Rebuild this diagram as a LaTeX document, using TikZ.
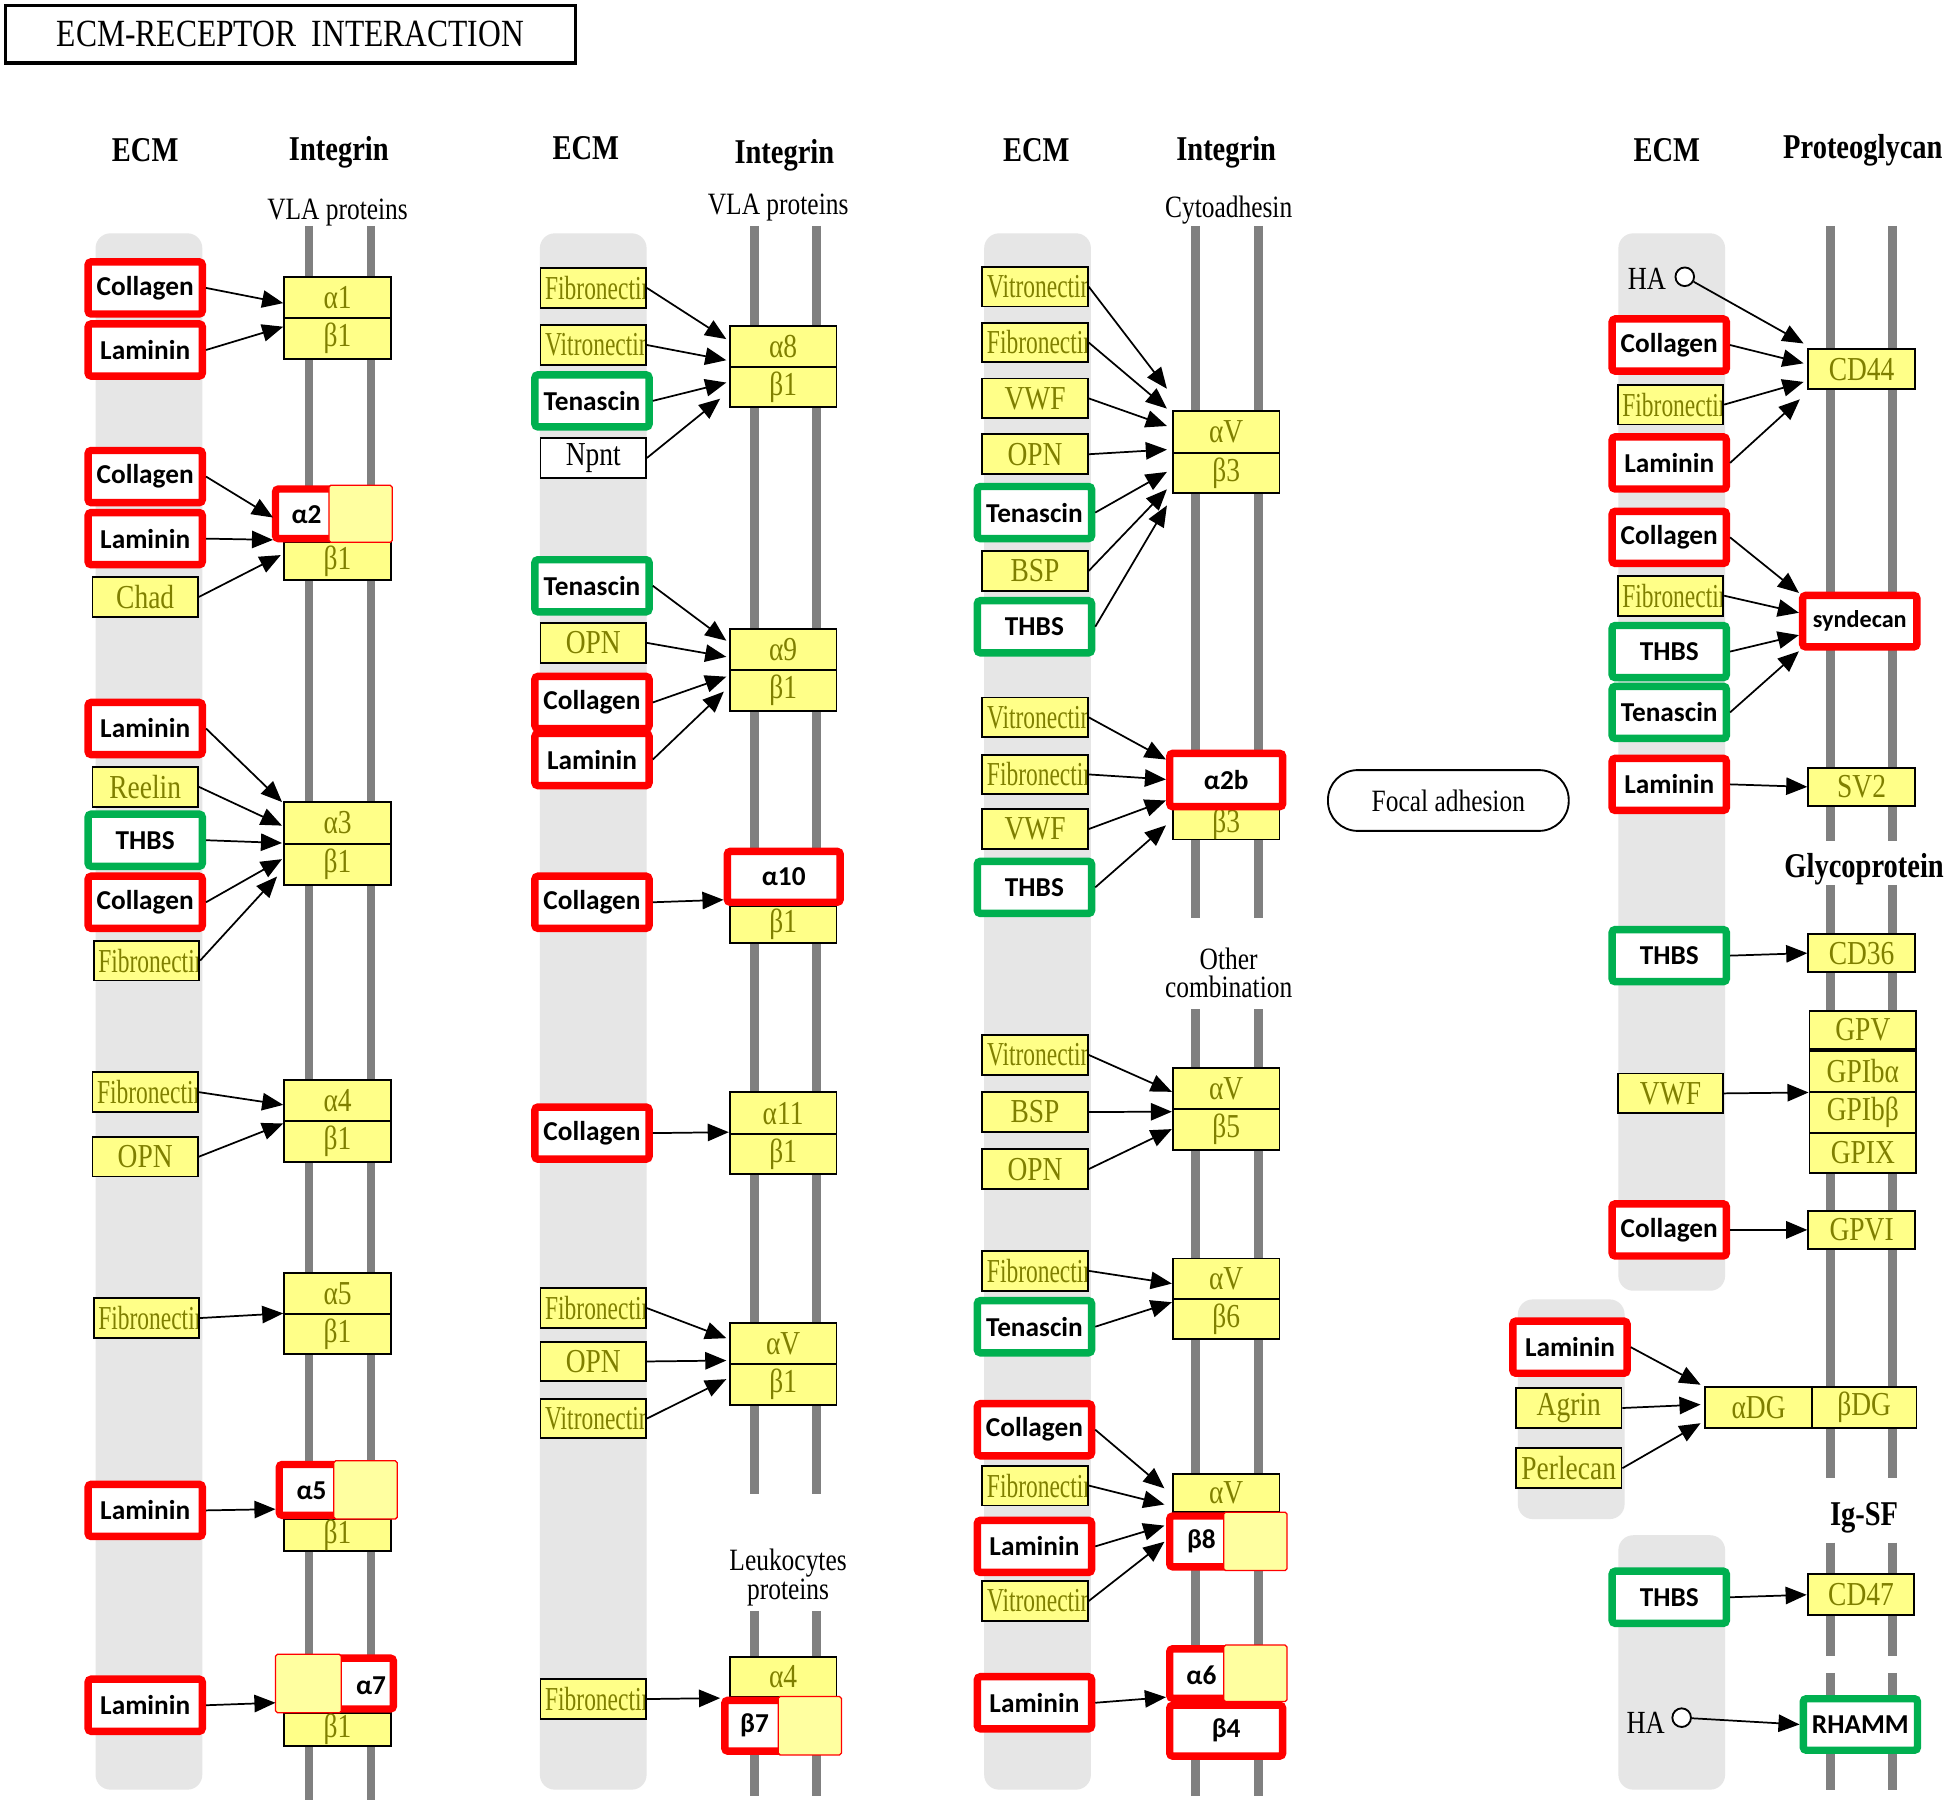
\documentclass[tikz,border=0pt]{standalone}
\usepackage{fontspec}
\usetikzlibrary{arrows.meta,calc}
\newfontfamily\kser[FakeStretch=0.82]{Liberation Serif}
\newfontfamily\ksern[FakeStretch=0.7]{Liberation Serif}
\newfontfamily\kcal{Carlito}
\definecolor{kyel}{HTML}{FFFF88}
\definecolor{kpale}{HTML}{FFFFA0}
\definecolor{kolive}{HTML}{7F7F00}
\definecolor{kred}{HTML}{FF0000}
\definecolor{kgreen}{HTML}{00B050}
\definecolor{kbg}{HTML}{E6E6E6}
\definecolor{kmem}{HTML}{808080}
\tikzset{
  yfont/.style={font=\kser\fontsize{27}{27}\selectfont},
  ecm/.style={draw=black, line width=1.5pt, fill=kyel, minimum width=85pt, minimum height=32pt, inner sep=0pt, text=kolive, yfont},
  ecmlong/.style={path picture={\node[anchor=west, inner sep=0pt, text=kolive, font=\ksern\fontsize{27}{27}\selectfont] at ([xshift=3pt]path picture bounding box.west) {#1};}},
  redbox/.style={draw=kred, line width=6pt, fill=white, rounded corners=2.5pt, minimum width=92pt, minimum height=42pt, inner sep=0pt, text=black, font=\kcal\fontsize{22}{22}\selectfont\bfseries},
  greenbox/.style={redbox, draw=kgreen},
  rcell/.style={draw=black, line width=1.5pt, fill=kyel, minimum width=86pt, inner sep=0pt, text=kolive, yfont},
  rtext/.style={inner sep=0pt, text=black, font=\kcal\fontsize{22}{22}\selectfont\bfseries},
  pale/.style={fill=kpale, draw=kred, line width=1pt, rounded corners=1.5pt},
  mem/.style={draw=kmem, line width=7pt},
  arr/.style={-{Triangle[length=17pt,width=14pt]}, line width=1.4pt, black},
  hdr/.style={font=\kser\fontsize{28}{28}\selectfont\bfseries, inner sep=0pt},
  sub/.style={font=\kser\fontsize{25}{23}\selectfont, align=center, inner sep=0pt},
  hatext/.style={font=\kser\fontsize{26}{26}\selectfont, inner sep=0pt},
  hacirc/.style={circle, draw=black, line width=1.5pt, fill=white, minimum size=15pt, inner sep=0pt},
  bgcol/.style={fill=kbg, rounded corners=12pt}
}
\begin{document}
\begin{tikzpicture}[x=1pt,y=-1pt]
\useasboundingbox (0,0) rectangle (1568,1453);
\fill[white] (0,0) rectangle (1568,1453);

% grey ECM columns
\fill[bgcol] (77,188) rectangle (163,1442);
\fill[bgcol] (435,188) rectangle (521,1442);
\fill[bgcol] (793,188) rectangle (879,1442);
\fill[bgcol] (1304,188) rectangle (1390,1040);
\fill[bgcol] (1223,1047) rectangle (1309,1224);
\fill[bgcol] (1304,1237) rectangle (1390,1442);

% membrane lines
\foreach \x in {249,299} \draw[mem] (\x,182) -- (\x,1450);
\foreach \x in {608,658} {\draw[mem] (\x,182) -- (\x,1204); \draw[mem] (\x,1298) -- (\x,1447);}
\foreach \x in {963,1014} {\draw[mem] (\x,182) -- (\x,740); \draw[mem] (\x,813) -- (\x,1447);}
\foreach \x in {1475,1525} {\draw[mem] (\x,182) -- (\x,678); \draw[mem] (\x,713) -- (\x,1191);
  \draw[mem] (\x,1243) -- (\x,1334); \draw[mem] (\x,1348) -- (\x,1442);}

% title and headers
\node[draw=black, line width=2.5pt, minimum width=459.5pt, minimum height=46.5pt, inner sep=0pt, font=\kser\fontsize{31}{31}\selectfont] (title) at (234,27.5) {ECM-RECEPTOR\hspace{0.4em}INTERACTION};
\node[hdr] (h1) at (117,121) {ECM};
\node[hdr] (h2) at (273,123) {Integrin};
\node[hdr] (h3) at (472,119) {ECM};
\node[hdr] (h4) at (632,125) {Integrin};
\node[hdr] (h5) at (835,121) {ECM};
\node[hdr] (h6) at (988,123) {Integrin};
\node[hdr] (h7) at (1343,121) {ECM};
\node[hdr] (h8) at (1501,121) {Proteoglycan};
\node[sub] (s1) at (272,171) {VLA proteins};
\node[sub] (s2) at (627,167) {VLA proteins};
\node[sub] (s3) at (990,169) {Cytoadhesin};
\node[sub] (s4) at (990,784) {Other\\combination};
\node[sub] (s5) at (635,1271) {Leukocytes\\proteins};
\node[hdr] (s6) at (1502,700) {Glycoprotein};
\node[hdr] (s7) at (1502,1223) {Ig-SF};

% ---------- column 1 ----------
\node[redbox] (c1a) at (117,232) {Collagen};
\node[redbox] (c1b) at (117,282) {Laminin};
\node[redbox] (c2a) at (117,384) {Collagen};
\node[redbox] (c2b) at (117,434) {Laminin};
\node[ecm] (c2c) at (117,481) {Chad};
\node[redbox] (c3a) at (117,587) {Laminin};
\node[ecm] (c3b) at (117,634) {Reelin};
\node[greenbox] (c3c) at (117,677) {THBS};
\node[redbox] (c3d) at (117,727) {Collagen};
\node[ecm, ecmlong=Fibronectin] (c3e) at (118,774) {};
\node[ecm, ecmlong=Fibronectin] (c4a) at (117,880) {};
\node[ecm] (c4b) at (117,932) {OPN};
\node[ecm, ecmlong=Fibronectin] (c5a) at (118,1062) {};
\node[redbox] (c6a) at (117,1217) {Laminin};
\node[redbox] (c7a) at (117,1374) {Laminin};

\node[rcell, minimum height=33pt] (r1a) at (272,239.5) {α1};
\node[rcell, minimum height=33pt] (r1b) at (272,272.5) {β1};
\node[rcell, minimum height=30pt] (r2b) at (272,452) {β1};
\node[redbox, minimum width=91pt, minimum height=40pt] (r2a) at (267.5,414) {};
\fill[pale] (265,391) rectangle (316,437);
\node[rtext] (r2t) at (247,415) {α2};
\node[rcell, minimum height=34pt] (r3a) at (272,663) {α3};
\node[rcell, minimum height=33pt] (r3b) at (272,696.5) {β1};
\node[rcell, minimum height=33pt] (r4a) at (272,886.5) {α4};
\node[rcell, minimum height=33pt] (r4b) at (272,919.5) {β1};
\node[rcell, minimum height=33pt] (r5a) at (272,1042.5) {α5};
\node[rcell, minimum height=32pt] (r5b) at (272,1075) {β1};
\node[rcell, minimum height=26pt] (r6b) at (272,1237) {β1};
\node[redbox, minimum width=92pt, minimum height=41pt] (r6a) at (271,1200.5) {};
\fill[pale] (269,1177) rectangle (320,1224);
\node[rtext] (r6t) at (251,1201) {α5};
\node[rcell, minimum height=27pt] (r7b) at (272,1393.5) {β1};
\node[redbox, minimum width=92pt, minimum height=41pt] (r7a) at (271,1356.5) {};
\fill[pale] (222,1333) rectangle (275,1380);
\node[rtext] (r7t) at (299,1358) {α7};

\draw[arr] (c1a.east) -- ($(r1a.north west)+(0,22)$);
\draw[arr] (c1b.east) -- ($(r1a.north west)+(0,41)$);
\draw[arr] (c2a.east) -- ($(r2a.north west)+(1,26)$);
\draw[arr] (c2b.east) -- ($(r2a.north west)+(1,44)$);
\draw[arr] (c2c.east) -- ($(r2b.north west)+(-2,11)$);
\draw[arr] (c3a.east) -- ($(r3a.north west)+(-1,1)$);
\draw[arr] (c3b.east) -- ($(r3a.north west)+(-1,20)$);
\draw[arr] (c3c.east) -- ($(r3a.north west)+(-1,34)$);
\draw[arr] (c3d.east) -- ($(r3a.north west)+(-1,47)$);
\draw[arr] (c3e.east) -- ($(r3a.north west)+(-5,61)$);
\draw[arr] (c4a.east) -- ($(r4a.north west)+(0,21)$);
\draw[arr] (c4b.east) -- ($(r4a.north west)+(0,36)$);
\draw[arr] (c5a.east) -- ($(r5a.north west)+(0,33)$);
\draw[arr] (c6a.east) -- ($(r6a.north west)+(0,39)$);
\draw[arr] (c7a.east) -- ($(r7a.north west)+(0,39)$);

% ---------- column 2 ----------
\node[ecm, ecmlong=Fibronectin] (d1a) at (478,232) {};
\node[ecm, ecmlong=Vitronectin] (d1b) at (478,278) {};
\node[greenbox] (d1c) at (477,323) {Tenascin};
\node[ecm, fill=white, text=black] (d1d) at (478,369) {Npnt};
\node[greenbox] (d2a) at (477,472) {Tenascin};
\node[ecm] (d2b) at (478,518) {OPN};
\node[redbox] (d2c) at (477,566) {Collagen};
\node[redbox] (d2d) at (477,612) {Laminin};
\node[redbox] (d3a) at (477,727) {Collagen};
\node[redbox] (d4a) at (477,913) {Collagen};
\node[ecm, ecmlong=Fibronectin] (d5a) at (478,1054) {};
\node[ecm] (d5b) at (478,1097) {OPN};
\node[ecm, ecmlong=Vitronectin] (d5c) at (478,1143) {};
\node[ecm, ecmlong=Fibronectin] (d6a) at (478,1369) {};

\node[rcell, minimum height=33pt] (s1a) at (631,279.5) {α8};
\node[rcell, minimum height=32pt] (s1b) at (631,312) {β1};
\node[rcell, minimum height=33pt] (s2a) at (631,523.5) {α9};
\node[rcell, minimum height=33pt] (s2b) at (631,556.5) {β1};
\node[rcell, minimum height=30pt] (s3b) at (631,745) {β1};
\node[redbox, minimum width=91pt, minimum height=41pt] (s3a) at (631.5,706.5) {α10};
\node[rcell, minimum height=34pt] (s4a) at (631,897) {α11};
\node[rcell, minimum height=32pt] (s4b) at (631,930) {β1};
\node[rcell, minimum height=33pt] (s5a) at (631,1082.5) {αV};
\node[rcell, minimum height=33pt] (s5b) at (631,1115.5) {β1};
\node[rcell, minimum height=32pt] (s6a) at (631,1351) {α4};
\node[redbox, minimum width=91pt, minimum height=41pt] (s6b) at (629.5,1390.5) {};
\fill[pale] (627,1367) rectangle (678,1414);
\node[rtext] (s6t) at (608,1390) {β7};

\draw[arr] (d1a.east) -- ($(s1a.north west)+(-2,11)$);
\draw[arr] (d1b.east) -- ($(s1a.north west)+(-2,28)$);
\draw[arr] (d1c.east) -- ($(s1a.north west)+(-2,46)$);
\draw[arr] (d1d.east) -- ($(s1a.north west)+(-7,59)$);
\draw[arr] (d2a.east) -- ($(s2a.north west)+(-2,10)$);
\draw[arr] (d2b.east) -- ($(s2a.north west)+(-2,23)$);
\draw[arr] (d2c.east) -- ($(s2a.north west)+(-2,39)$);
\draw[arr] (d2d.east) -- ($(s2a.north west)+(-4,51)$);
\draw[arr] (d3a.east) -- ($(s3a.north west)+(0,42)$);
\draw[arr] (d4a.east) -- ($(s4a.north west)+(0,33)$);
\draw[arr] (d5a.east) -- ($(s5a.north west)+(-2,13)$);
\draw[arr] (d5b.east) -- ($(s5a.north west)+(-2,31)$);
\draw[arr] (d5c.east) -- ($(s5a.north west)+(-2,46)$);
\draw[arr] (d6a.east) -- ($(s6a.north west)+(-7,34)$);

% ---------- column 3 ----------
\node[ecm, ecmlong=Vitronectin] (e1a) at (834,231) {};
\node[ecm, ecmlong=Fibronectin] (e1b) at (834,276) {};
\node[ecm] (e1c) at (834,321) {VWF};
\node[ecm] (e1d) at (834,366) {OPN};
\node[greenbox] (e1e) at (833.5,413) {Tenascin};
\node[ecm] (e1f) at (834,460) {BSP};
\node[greenbox] (e1g) at (833.5,505) {THBS};
\node[ecm, ecmlong=Vitronectin] (e2a) at (834,578) {};
\node[ecm, ecmlong=Fibronectin] (e2b) at (834,624) {};
\node[ecm] (e2c) at (834,668) {VWF};
\node[greenbox] (e2d) at (833.5,715) {THBS};
\node[ecm, ecmlong=Vitronectin] (e3a) at (834,850) {};
\node[ecm] (e3b) at (834,896) {BSP};
\node[ecm] (e3c) at (834,942) {OPN};
\node[ecm, ecmlong=Fibronectin] (e4a) at (834,1024) {};
\node[greenbox] (e4b) at (833.5,1069) {Tenascin};
\node[redbox] (e5a) at (833.5,1152) {Collagen};
\node[ecm, ecmlong=Fibronectin] (e5b) at (834,1197) {};
\node[redbox] (e5c) at (833.5,1246) {Laminin};
\node[ecm, ecmlong=Vitronectin] (e5d) at (834,1290) {};
\node[redbox] (e6a) at (833.5,1372) {Laminin};

\node[rcell, minimum height=34pt] (t1a) at (988,348) {αV};
\node[rcell, minimum height=32pt] (t1b) at (988,381) {β3};
\node[rcell, minimum height=24pt] (t2b) at (988,664) {β3};
\node[redbox, minimum width=91pt, minimum height=43pt] (t2a) at (988,628.5) {α2b};
\node[rcell, minimum height=33pt] (t3a) at (988,877) {αV};
\node[rcell, minimum height=33pt] (t3b) at (988,910) {β5};
\node[rcell, minimum height=33pt] (t4a) at (988,1030.5) {αV};
\node[rcell, minimum height=32pt] (t4b) at (988,1063) {β6};
\node[rcell, minimum height=30pt] (t5a) at (988,1203) {αV};
\node[redbox, minimum width=91pt, minimum height=41pt] (t5b) at (988,1242) {};
\fill[pale] (986,1218.5) rectangle (1037,1265.5);
\node[rtext] (t5t) at (968,1242) {β8};
\node[redbox, minimum width=91pt, minimum height=40pt] (t6a) at (988,1348.5) {};
\fill[pale] (986,1325.5) rectangle (1037,1371);
\node[rtext] (t6t) at (968,1349.5) {α6};
\node[redbox, minimum width=91pt, minimum height=41pt] (t6b) at (988,1394.5) {β4};

\draw[arr] (e1a.east) -- ($(t1a.north west)+(-4,-17)$);
\draw[arr] (e1b.east) -- ($(t1a.north west)+(-4,-1)$);
\draw[arr] (e1c.east) -- ($(t1a.north west)+(-4,13)$);
\draw[arr] (e1d.east) -- ($(t1a.north west)+(-4,32)$);
\draw[arr] (e1e.east) -- ($(t1a.north west)+(-4,50)$);
\draw[arr] (e1f.east) -- ($(t1a.north west)+(-4,64)$);
\draw[arr] (e1g.east) -- ($(t1a.north west)+(-4,77)$);
\draw[arr] (e2a.east) -- ($(t2a.north west)+(0,8)$);
\draw[arr] (e2b.east) -- ($(t2a.north west)+(0,24)$);
\draw[arr] (e2c.east) -- ($(t2a.north west)+(0,41)$);
\draw[arr] (e2d.east) -- ($(t2a.north west)+(0,61)$);
\draw[arr] (e3a.east) -- ($(t3a.north west)+(0,20)$);
\draw[arr] (e3b.east) -- ($(t3a.north west)+(0,36)$);
\draw[arr] (e3c.east) -- ($(t3a.north west)+(0,50)$);
\draw[arr] (e4a.east) -- ($(t4a.north west)+(0,21)$);
\draw[arr] (e4b.east) -- ($(t4a.north west)+(0,36)$);
\draw[arr] (e5a.east) -- ($(t5a.north west)+(-6,12)$);
\draw[arr] (e5b.east) -- ($(t5a.north west)+(-6,25)$);
\draw[arr] (e5c.east) -- ($(t5a.north west)+(-6,42)$);
\draw[arr] (e5d.east) -- ($(t5a.north west)+(-6,55)$);
\draw[arr] (e6a.east) -- ($(t6a.north west)+(0,42)$);

% focal adhesion
\node[draw=black, line width=1.5pt, rounded corners=24pt, minimum width=194pt, minimum height=49pt, inner sep=0pt, font=\kser\fontsize{25}{25}\selectfont] (fa) at (1167,645) {Focal adhesion};

% ---------- column 4 ----------
\node[hatext] (ha1) at (1327,225) {HA};
\node[hacirc] (ha1c) at (1357.5,223) {};
\node[redbox] (f1a) at (1345,278) {Collagen};
\node[ecm, ecmlong=Fibronectin] (f1b) at (1346,326) {};
\node[redbox] (f1c) at (1345,373) {Laminin};
\node[redbox] (f2a) at (1345,433) {Collagen};
\node[ecm, ecmlong=Fibronectin] (f2b) at (1346,480) {};
\node[greenbox] (f2c) at (1345,525) {THBS};
\node[greenbox] (f2d) at (1345,574) {Tenascin};
\node[redbox] (f3a) at (1345,632) {Laminin};
\node[greenbox] (f4a) at (1345,770) {THBS};
\node[ecm] (f5a) at (1346,881) {VWF};
\node[redbox] (f6a) at (1345,991) {Collagen};
\node[redbox] (f7a) at (1265,1085.5) {Laminin};
\node[ecm] (f7b) at (1264,1134.5) {Agrin};
\node[ecm] (f7c) at (1264,1183) {Perlecan};
\node[greenbox] (f8a) at (1345,1287) {THBS};
\node[hatext] (ha2) at (1326,1388) {HA};
\node[hacirc] (ha2c) at (1355,1384) {};

\node[rcell, minimum height=32pt] (g1) at (1500,297.5) {CD44};
\node[redbox, minimum width=92pt, minimum height=41.5pt, font=\kcal\fontsize{19.5}{20}\selectfont\bfseries] (g2) at (1498.5,500.5) {syndecan};
\node[rcell, minimum height=31pt] (g3) at (1500,634) {SV2};
\node[rcell, minimum height=31pt] (g4) at (1500,768) {CD36};
\node[rcell, minimum height=31pt] (g5a) at (1501,830) {GPV};
\node[rcell, minimum height=33pt] (g5b) at (1501,863) {GPIbα};
\node[rcell, minimum height=33pt] (g5c) at (1501,896.5) {GPIbβ};
\node[rcell, minimum height=32pt] (g5d) at (1501,929) {GPIX};
\node[rcell, minimum height=31pt] (g6) at (1500,991) {GPVI};
\node[rcell, minimum height=33pt, minimum width=86pt] (g7a) at (1417,1134) {αDG};
\node[rcell, minimum height=33pt, minimum width=84.5pt] (g7b) at (1502,1134) {βDG};
\node[rcell, minimum height=33pt] (g8) at (1499.5,1285) {CD47};
\node[greenbox, minimum width=92pt, minimum height=41.5pt] (g9) at (1499,1389.5) {RHAMM};

\draw[arr] (ha1c) -- ($(g1.north west)+(-3,-4)$);
\draw[arr] (f1a.east) -- ($(g1.north west)+(-3,12)$);
\draw[arr] (f1b.east) -- ($(g1.north west)+(-3,27)$);
\draw[arr] (f1c.east) -- ($(g1.north west)+(-6,41)$);
\draw[arr] (f2a.east) -- ($(g2.north west)+(0,1)$);
\draw[arr] (f2b.east) -- ($(g2.north west)+(0,17)$);
\draw[arr] (f2c.east) -- ($(g2.north west)+(0,35)$);
\draw[arr] (f2d.east) -- ($(g2.north west)+(0,48)$);
\draw[arr] (f3a.east) -- (g3.west);
\draw[arr] (f4a.east) -- (g4.west);
\draw[arr] (f5a.east) -- (g5b.south west);
\draw[arr] (f6a.east) -- (g6.west);
\draw[arr] (f7a.east) -- ($(g7a.north west)+(-3,-1)$);
\draw[arr] (f7b.east) -- ($(g7a.north west)+(-3,15)$);
\draw[arr] (f7c.east) -- ($(g7a.north west)+(-3,30)$);
\draw[arr] (f8a.east) -- (g8.west);
\draw[arr] (ha2c) -- (g9.west);
\end{tikzpicture}
\end{document}
